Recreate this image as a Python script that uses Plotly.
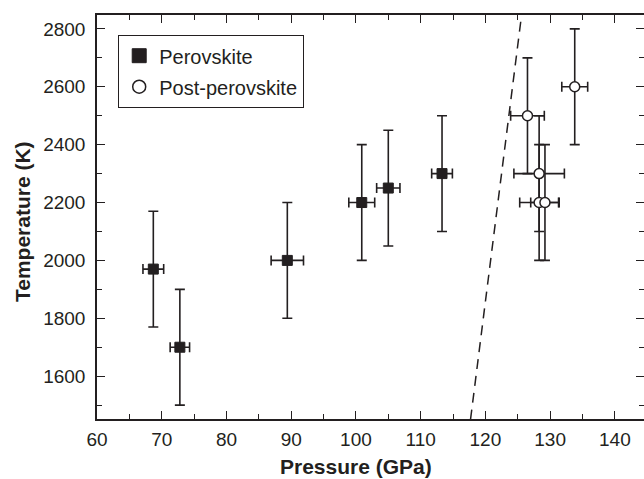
import plotly.graph_objects as go

# Perovskite data
pv_P = [68.7, 72.8, 89.4, 100.9, 105.0, 113.3]
pv_Perr = [1.6, 1.5, 2.5, 2.0, 1.8, 1.6]
pv_T = [1970, 1700, 2000, 2200, 2250, 2300]
pv_Terr = [200, 200, 200, 200, 200, 200]

# Post-perovskite data
ppv_P = [126.5, 128.3, 128.3, 129.2, 133.8]
ppv_Perr = [2.6, 3.9, 3.0, 2.2, 2.0]
ppv_T = [2500, 2300, 2200, 2200, 2600]
ppv_Terr = [200, 200, 200, 200, 200]

# Phase boundary (dashed)
pb_P = [117.7, 125.6]
pb_T = [1450, 2850]

x_range = [60, 144.5]
y_range = [1452, 2848]
x_ticks = [60, 70, 80, 90, 100, 110, 120, 130, 140]
y_ticks = [1600, 1800, 2000, 2200, 2400, 2600, 2800]

ink = "#231f20"
font_family = "Arial, Liberation Sans, sans-serif"

fig = go.Figure()

fig.add_trace(go.Scatter(
    x=pb_P, y=pb_T, mode="lines",
    line=dict(color=ink, width=1.5, dash="10px,7px"),
    showlegend=False, hoverinfo="skip"))

fig.add_trace(go.Scatter(
    x=pv_P, y=pv_T, mode="markers", name="Perovskite", showlegend=False,
    marker=dict(symbol="square", size=10, color=ink, line=dict(color=ink, width=1)),
    error_x=dict(type="data", array=pv_Perr, color=ink, thickness=1.6, width=5),
    error_y=dict(type="data", array=pv_Terr, color=ink, thickness=1.6, width=5)))

fig.add_trace(go.Scatter(
    x=ppv_P, y=ppv_T, mode="markers", name="Post-perovskite", showlegend=False,
    marker=dict(symbol="circle", size=10, color="white", line=dict(color=ink, width=1.5)),
    error_x=dict(type="data", array=ppv_Perr, color=ink, thickness=1.6, width=5),
    error_y=dict(type="data", array=ppv_Terr, color=ink, thickness=1.6, width=5)))

# legend entries with larger symbols
fig.add_trace(go.Scatter(
    x=[None], y=[None], mode="markers", name="Perovskite", legendgroup="a",
    marker=dict(symbol="square", size=14, color=ink, line=dict(color=ink, width=1))))
fig.add_trace(go.Scatter(
    x=[None], y=[None], mode="markers", name="Post-perovskite", legendgroup="b",
    marker=dict(symbol="circle", size=13, color="white", line=dict(color=ink, width=1.5))))

axis_common = dict(
    showgrid=False, zeroline=False, showline=True, linecolor=ink, linewidth=1.5,
    ticks="inside", ticklen=8, tickwidth=1.2, tickcolor=ink, mirror="allticks",
    tickfont=dict(size=19, color=ink, family=font_family), automargin=False,
)

fig.update_xaxes(
    range=x_range, tickvals=x_ticks, ticklabelstandoff=2,
    minor=dict(ticks="inside", ticklen=5, tickwidth=1.2, tickcolor=ink, dtick=5, tick0=60),
    **axis_common)
fig.update_yaxes(
    range=y_range, tickvals=y_ticks, ticklabelstandoff=6,
    minor=dict(ticks="inside", ticklen=5, tickwidth=1.2, tickcolor=ink, dtick=100, tick0=1500),
    **axis_common)

fig.add_annotation(
    text="<b>Pressure (GPa)</b>", xref="paper", yref="paper",
    x=0.4744, y=-0.1188, xanchor="center", yanchor="middle", showarrow=False,
    font=dict(size=21, color=ink, family=font_family))
fig.add_annotation(
    text="<b>Temperature (K)</b>", xref="paper", yref="paper", textangle=-90,
    x=-0.137, y=0.4876, xanchor="center", yanchor="middle", showarrow=False,
    font=dict(size=21, color=ink, family=font_family))

fig.update_layout(
    width=644, height=479,
    margin=dict(l=97, r=0, t=15, b=60),
    plot_bgcolor="white", paper_bgcolor="white",
    font=dict(family=font_family, color=ink),
    legend=dict(
        x=0.0384, y=0.9505, xanchor="left", yanchor="top",
        bordercolor=ink, borderwidth=1.2, bgcolor="white",
        font=dict(size=20, color=ink, family=font_family),
        traceorder="grouped", tracegroupgap=2, itemsizing="trace"),
)

fig.write_html("out.html", config={"displayModeBar": False},
               post_script="document.body.style.margin='0';document.body.style.overflow='hidden';")
